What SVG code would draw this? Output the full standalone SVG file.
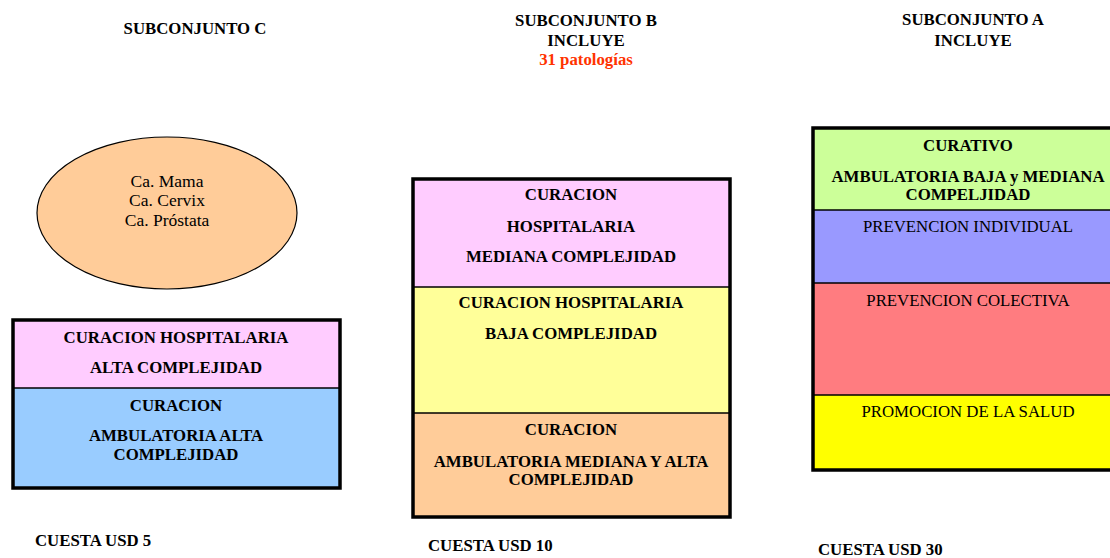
<svg xmlns="http://www.w3.org/2000/svg" width="1110" height="558" viewBox="0 0 1110 558">
<style>
text{font-family:"Liberation Serif","Times New Roman",serif;font-size:16.8px;fill:#000;text-anchor:middle}
.b{font-weight:bold}
.l{text-anchor:start}
.red{fill:#FF3300}
.frame{fill:none;stroke:#000;stroke-width:3.5}
.div{stroke:#000;stroke-width:1.5}
.e{font-size:17.5px}
</style>
<rect width="1110" height="558" fill="#fff"/>
<g id="headers">
<text class="b" x="195" y="34">SUBCONJUNTO C</text>
<text class="b" x="586" y="26">SUBCONJUNTO B</text>
<text class="b" x="586" y="46">INCLUYE</text>
<text class="b red" x="586" y="65">31 patologías</text>
<text class="b" x="973" y="25">SUBCONJUNTO A</text>
<text class="b" x="973" y="46">INCLUYE</text>
</g>
<g id="ellipse-c">
<ellipse cx="167" cy="213" rx="130" ry="76" fill="#FFCC99" stroke="#000" stroke-width="1.2"/>
<text class="e" x="167" y="187">Ca. Mama</text>
<text class="e" x="167" y="206">Ca. Cervix</text>
<text class="e" x="167" y="226">Ca. Próstata</text>
</g>
<g id="box-c">
<rect x="13" y="320" width="327" height="68" fill="#FFCCFF"/>
<rect x="13" y="388" width="327" height="100" fill="#99CCFF"/>
<line class="div" x1="13" y1="388" x2="340" y2="388"/>
<rect class="frame" x="13" y="320" width="327" height="168"/>
<text class="b" x="176" y="343">CURACION HOSPITALARIA</text>
<text class="b" x="176" y="373">ALTA COMPLEJIDAD</text>
<text class="b" x="176" y="411">CURACION</text>
<text class="b" x="176" y="441">AMBULATORIA ALTA</text>
<text class="b" x="176" y="460">COMPLEJIDAD</text>
</g>
<g id="box-b">
<rect x="413" y="179" width="317" height="108" fill="#FFCCFF"/>
<rect x="413" y="287" width="317" height="126" fill="#FFFF99"/>
<rect x="413" y="413" width="317" height="104" fill="#FFCC99"/>
<line class="div" x1="413" y1="287" x2="730" y2="287"/>
<line class="div" x1="413" y1="413" x2="730" y2="413"/>
<rect class="frame" x="413" y="179" width="317" height="338"/>
<text class="b" x="571" y="200">CURACION</text>
<text class="b" x="571" y="232">HOSPITALARIA</text>
<text class="b" x="571" y="262">MEDIANA COMPLEJIDAD</text>
<text class="b" x="571" y="308">CURACION HOSPITALARIA</text>
<text class="b" x="571" y="339">BAJA COMPLEJIDAD</text>
<text class="b" x="571" y="435">CURACION</text>
<text class="b" x="571" y="467">AMBULATORIA MEDIANA Y ALTA</text>
<text class="b" x="571" y="485">COMPLEJIDAD</text>
</g>
<g id="box-a">
<rect x="813" y="128" width="312" height="82" fill="#CCFF99"/>
<rect x="813" y="210" width="312" height="73" fill="#9999FF"/>
<rect x="813" y="283" width="312" height="112" fill="#FF7C80"/>
<rect x="813" y="395" width="312" height="75" fill="#FFFF00"/>
<line class="div" x1="813" y1="210" x2="1125" y2="210"/>
<line class="div" x1="813" y1="283" x2="1125" y2="283"/>
<line class="div" x1="813" y1="395" x2="1125" y2="395"/>
<rect class="frame" x="813" y="128" width="312" height="342"/>
<text class="b" x="968" y="151">CURATIVO</text>
<text class="b" x="968" y="182">AMBULATORIA BAJA y MEDIANA</text>
<text class="b" x="968" y="200">COMPELJIDAD</text>
<text x="968" y="232">PREVENCION INDIVIDUAL</text>
<text x="968" y="306">PREVENCION COLECTIVA</text>
<text x="968" y="417">PROMOCION DE LA SALUD</text>
</g>
<g id="costs">
<text class="b l" x="35" y="546">CUESTA USD 5</text>
<text class="b l" x="428" y="551">CUESTA USD 10</text>
<text class="b l" x="818" y="555">CUESTA USD 30</text>
</g>
<g id="connectors"></g>
</svg>
